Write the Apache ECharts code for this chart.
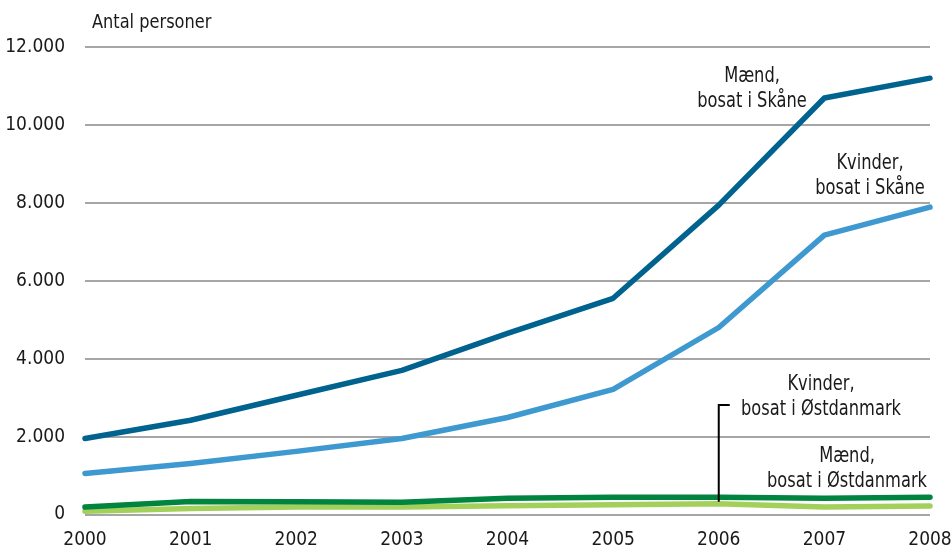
<!DOCTYPE html>
<html>
<head>
<meta charset="utf-8">
<script src="https://cdn.jsdelivr.net/npm/echarts@6/dist/echarts.min.js"></script>
<style>
  html, body { margin: 0; padding: 0; background: #fff; }
  #chart { width: 951px; height: 549px; }
</style>
</head>
<body>
<div id="chart"></div>
<script>
// data
const years = ['2000', '2001', '2002', '2003', '2004', '2005', '2006', '2007', '2008'];
const maendSkaane = [1950, 2420, 3060, 3700, 4650, 5550, 7940, 10690, 11200];
const kvinderSkaane = [1050, 1310, 1620, 1950, 2490, 3210, 4800, 7170, 7890];
const maendOst = [190, 335, 325, 315, 420, 445, 440, 420, 445];
const kvinderOst = [85, 155, 190, 190, 225, 250, 275, 190, 215];

const FONT = '"DejaVu Sans Condensed", "DejaVu Sans", sans-serif';
const TXT = '#1a1a1a';

const chart = echarts.init(document.getElementById('chart'));

const lineSeries = (name, data, color) => ({
  name: name,
  type: 'line',
  data: data,
  symbol: 'none',
  smooth: false,
  lineStyle: { color: color, width: 5.5, cap: 'round', join: 'round' },
  silent: true
});

// centred two-line annotation, squeezed a bit to look condensed
const label = (x, y, lines) => ({
  type: 'text',
  x: x,
  y: y,
  scaleX: 0.86,
  style: {
    text: lines.join('\n'),
    font: '21px ' + FONT,
    fill: TXT,
    align: 'center',
    verticalAlign: 'top',
    lineHeight: 25
  }
});

chart.setOption({
  animation: false,
  grid: { left: 85, right: 21, top: 47, bottom: 34.5, outerBoundsMode: 'none' },
  xAxis: {
    type: 'category',
    data: years,
    boundaryGap: false,
    axisLine: { show: false },
    axisTick: { show: false },
    axisLabel: { color: TXT, fontFamily: FONT, fontSize: 19, margin: 16 }
  },
  yAxis: {
    type: 'value',
    min: 0,
    max: 12000,
    interval: 2000,
    axisLine: { show: false },
    axisTick: { show: false },
    axisLabel: {
      color: TXT, fontFamily: FONT, fontSize: 19, margin: 20,
      formatter: v => v.toString().replace(/\B(?=(\d{3})+(?!\d))/g, '.')
    },
    splitLine: { lineStyle: { color: '#a6a6a6', width: 2 } }
  },
  series: [
    lineSeries('Kvinder, bosat i Østdanmark', kvinderOst, '#a3d05a'),
    lineSeries('Mænd, bosat i Østdanmark', maendOst, '#00843f'),
    lineSeries('Kvinder, bosat i Skåne', kvinderSkaane, '#3d99cf'),
    lineSeries('Mænd, bosat i Skåne', maendSkaane, '#00638f')
  ]
});

// annotations, pointer anchored on the 2006 point of the women/Østdanmark line
const p = chart.convertToPixel({ gridIndex: 0 }, ['2006', kvinderOst[6]]);
chart.setOption({
  graphic: [
    {
      type: 'text', x: 92, y: 13, scaleX: 0.9,
      style: { text: 'Antal personer', font: '20px ' + FONT, fill: TXT }
    },
    label(752, 64, ['Mænd,', 'bosat i Skåne']),
    label(870, 151, ['Kvinder,', 'bosat i Skåne']),
    label(821, 372, ['Kvinder,', 'bosat i Østdanmark']),
    label(847, 444, ['Mænd,', 'bosat i Østdanmark']),
    {
      type: 'polyline',
      shape: { points: [[p[0], p[1] - 2], [p[0], 405], [p[0] + 11, 405]] },
      style: { stroke: '#000', lineWidth: 2, fill: null },
      z: 10
    }
  ]
});
</script>
</body>
</html>
